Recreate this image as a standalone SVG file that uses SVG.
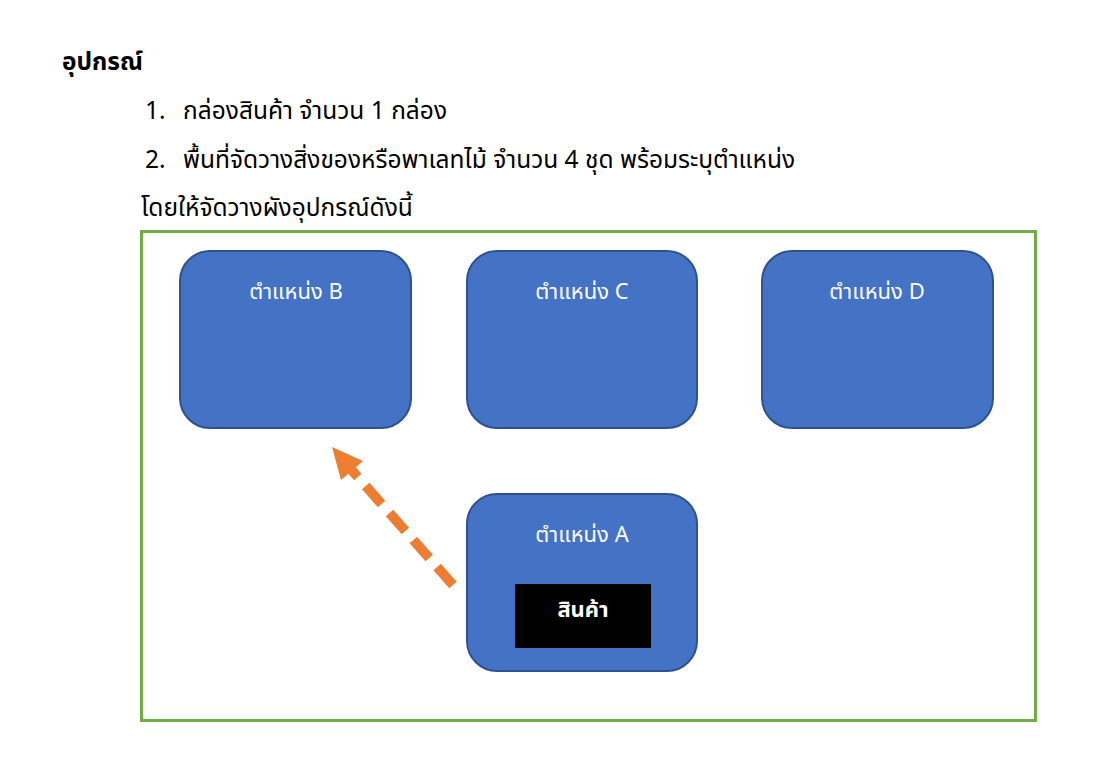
<svg xmlns="http://www.w3.org/2000/svg" width="1115" height="779" viewBox="0 0 1115 779">
<defs>
<style>
.t{font-family:"Noto Sans Thai","Noto Sans","DejaVu Sans",sans-serif;fill:#000;font-size:24.5px}
.box{fill:#4472C4;stroke:#2F528F;stroke-width:2}
.lbl{font-family:"Noto Sans Thai","Noto Sans","DejaVu Sans",sans-serif;fill:#fff;font-size:22px;text-anchor:middle}
</style>
</defs>
<rect width="1115" height="779" fill="#fff"/>
<text class="t" x="62" y="70" font-weight="bold" font-size="23">อุปกรณ์</text>
<text class="t" x="145" y="119">1.</text>
<text class="t" x="183" y="119">กล่องสินค้า จำนวน 1 กล่อง</text>
<text class="t" x="145" y="168">2.</text>
<text class="t" x="183" y="168">พื้นที่จัดวางสิ่งของหรือพาเลทไม้ จำนวน 4 ชุด พร้อมระบุตำแหน่ง</text>
<text class="t" x="141" y="216">โดยให้จัดวางผังอุปกรณ์ดังนี้</text>
<rect id="frame" x="141.5" y="231.5" width="894" height="489" fill="none" stroke="#70AD47" stroke-width="3"/>
<g id="nodeB"><rect class="box" x="180" y="251" width="231" height="177" rx="30"/><text class="lbl" x="296" y="299">ตำแหน่ง B</text></g>
<g id="nodeC"><rect class="box" x="467" y="251" width="230" height="177" rx="30"/><text class="lbl" x="582" y="299">ตำแหน่ง C</text></g>
<g id="nodeD"><rect class="box" x="762" y="251" width="231" height="177" rx="30"/><text class="lbl" x="877" y="299">ตำแหน่ง D</text></g>
<g id="nodeA"><rect class="box" x="467" y="494" width="230" height="177" rx="30"/><text class="lbl" x="582" y="542">ตำแหน่ง A</text>
<rect x="515" y="584" width="136" height="64" fill="#000"/><text class="lbl" x="583" y="617" font-size="15" font-weight="bold">สินค้า</text></g>
<g id="connectors">
<line x1="453" y1="585" x2="349" y2="467" stroke="#ED7D31" stroke-width="10" stroke-dasharray="24,12"/>
<path d="M332,447 L363,461 L341,480 Z" fill="#ED7D31"/>
</g>
</svg>
